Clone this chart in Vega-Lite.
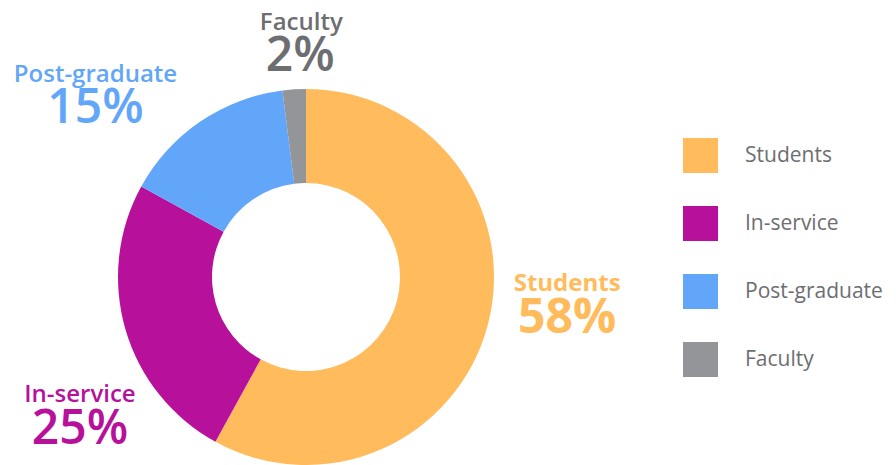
{
  "$schema": "https://vega.github.io/schema/vega-lite/v6.json",
  "width": 612,
  "height": 376,
  "autosize": {"type": "none"},
  "padding": {"left": 0, "top": 89, "right": 284, "bottom": 0},
  "background": "white",
  "config": {"view": {"stroke": null}, "font": "Open Sans"},
  "data": {
    "values": [
      {"category": "Students", "share": 0.58, "rank": 1},
      {"category": "In-service", "share": 0.25, "rank": 2},
      {"category": "Post-graduate", "share": 0.15, "rank": 3},
      {"category": "Faculty", "share": 0.02, "rank": 4}
    ]
  },
  "encoding": {
    "theta": {"field": "share", "type": "quantitative", "stack": true},
    "order": {"field": "rank", "type": "quantitative"}
  },
  "layer": [
    {
      "mark": {"type": "arc", "innerRadius": 94, "outerRadius": 188},
      "encoding": {
        "color": {
          "field": "category",
          "type": "nominal",
          "scale": {
            "domain": ["Students", "In-service", "Post-graduate", "Faculty"],
            "range": ["#FFBB5C", "#B7119B", "#62A6FA", "#939598"]
          },
          "legend": {
            "orient": "none",
            "legendX": 683,
            "legendY": 49,
            "title": null,
            "symbolType": "square",
            "symbolSize": 1225,
            "symbolStrokeWidth": 0,
            "symbolOpacity": 1,
            "rowPadding": 33,
            "labelOffset": 27,
            "labelFontSize": 21,
            "labelColor": "#6D6E71",
            "labelFont": "Open Sans",
            "padding": 0
          }
        }
      }
    },
    {
      "mark": {"type": "text", "radius": 250, "dx": 19, "dy": -55, "fontSize": 24, "fontWeight": "bold", "color": "#FFBB5C", "baseline": "middle", "align": "center"},
      "encoding": {"text": {"condition": {"test": "datum.category === 'Students'", "field": "category"}, "value": ""}}
    },
    {
      "mark": {"type": "text", "radius": 250, "dx": 19, "dy": -20, "fontSize": 48, "fontWeight": "bold", "color": "#FFBB5C", "baseline": "middle", "align": "center"},
      "encoding": {"text": {"condition": {"test": "datum.category === 'Students'", "field": "share", "format": ".0%"}, "value": ""}}
    },
    {
      "mark": {"type": "text", "radius": 250, "dx": 14, "dy": 48, "fontSize": 24, "fontWeight": 600, "color": "#B7119B", "baseline": "middle", "align": "center"},
      "encoding": {"text": {"condition": {"test": "datum.category === 'In-service'", "field": "category"}, "value": ""}}
    },
    {
      "mark": {"type": "text", "radius": 250, "dx": 14, "dy": 83, "fontSize": 48, "fontWeight": 600, "color": "#B7119B", "baseline": "middle", "align": "center"},
      "encoding": {"text": {"condition": {"test": "datum.category === 'In-service'", "field": "share", "format": ".0%"}, "value": ""}}
    },
    {
      "mark": {"type": "text", "radius": 250, "dx": -70, "dy": 5, "fontSize": 24, "fontWeight": 600, "color": "#62A6FA", "baseline": "middle", "align": "center"},
      "encoding": {"text": {"condition": {"test": "datum.category === 'Post-graduate'", "field": "category"}, "value": ""}}
    },
    {
      "mark": {"type": "text", "radius": 250, "dx": -70, "dy": 39, "fontSize": 48, "fontWeight": 600, "color": "#62A6FA", "baseline": "middle", "align": "center"},
      "encoding": {"text": {"condition": {"test": "datum.category === 'Post-graduate'", "field": "share", "format": ".0%"}, "value": ""}}
    },
    {
      "mark": {"type": "text", "radius": 250, "dx": 11, "dy": -4, "fontSize": 24, "fontWeight": 600, "color": "#6D6E71", "baseline": "middle", "align": "center"},
      "encoding": {"text": {"condition": {"test": "datum.category === 'Faculty'", "field": "category"}, "value": ""}}
    },
    {
      "mark": {"type": "text", "radius": 250, "dx": 10, "dy": 30, "fontSize": 48, "fontWeight": 600, "color": "#6D6E71", "baseline": "middle", "align": "center"},
      "encoding": {"text": {"condition": {"test": "datum.category === 'Faculty'", "field": "share", "format": ".0%"}, "value": ""}}
    }
  ]
}
